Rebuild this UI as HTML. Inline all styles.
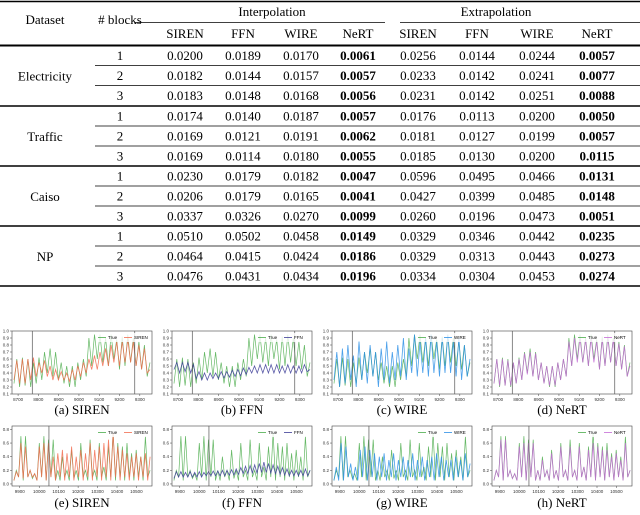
<!DOCTYPE html>
<html><head><meta charset="utf-8"><style>
body{margin:0;background:#fff}
svg{display:block;font-family:"Liberation Serif",serif}
</style></head><body>
<svg id="s" width="640" height="515" viewBox="0 0 640 515"></svg>
<script>
// ---------- Table data ----------
const datasets=["Electricity","Traffic","Caiso","NP"];
const methods=["SIREN","FFN","WIRE","NeRT"];
const tableVals=[
["0.0200","0.0189","0.0170","0.0061","0.0256","0.0144","0.0244","0.0057"],
["0.0182","0.0144","0.0157","0.0057","0.0233","0.0142","0.0241","0.0077"],
["0.0183","0.0148","0.0168","0.0056","0.0231","0.0142","0.0251","0.0088"],
["0.0174","0.0140","0.0187","0.0057","0.0176","0.0113","0.0200","0.0050"],
["0.0169","0.0121","0.0191","0.0062","0.0181","0.0127","0.0199","0.0057"],
["0.0169","0.0114","0.0180","0.0055","0.0185","0.0130","0.0200","0.0115"],
["0.0230","0.0179","0.0182","0.0047","0.0596","0.0495","0.0466","0.0131"],
["0.0206","0.0179","0.0165","0.0041","0.0427","0.0399","0.0485","0.0148"],
["0.0337","0.0326","0.0270","0.0099","0.0260","0.0196","0.0473","0.0051"],
["0.0510","0.0502","0.0458","0.0149","0.0329","0.0346","0.0442","0.0235"],
["0.0464","0.0415","0.0424","0.0186","0.0329","0.0313","0.0443","0.0273"],
["0.0476","0.0431","0.0434","0.0196","0.0334","0.0304","0.0453","0.0274"]];
// ---------- Chart data ----------
const trueTop=[0.25,0.6,0.2,0.62,0.22,0.6,0.2,0.55,0.25,0.62,0.3,0.7,0.4,0.75,0.35,0.7,0.3,0.55,0.25,0.5,0.2,0.5,0.2,0.55,0.3,0.6,0.35,0.9,0.5,0.95,0.6,0.95,0.55,0.9,0.5,0.95,0.6,0.88,0.45,0.92,0.5,0.95,0.55,0.9,0.5,0.85,0.45,0.8,0.35,0.55];
const sirenTop=[0.3,0.58,0.25,0.6,0.25,0.6,0.3,0.62,0.35,0.55,0.4,0.58,0.35,0.5,0.3,0.45,0.3,0.42,0.3,0.4,0.28,0.45,0.3,0.5,0.35,0.55,0.4,0.6,0.45,0.65,0.45,0.7,0.5,0.75,0.5,0.8,0.55,0.85,0.5,0.85,0.55,0.88,0.55,0.85,0.5,0.8,0.45,0.75,0.4,0.45];
const ffnTop=[0.45,0.55,0.4,0.55,0.42,0.55,0.4,0.52,0.32,0.42,0.3,0.4,0.3,0.4,0.32,0.4,0.32,0.42,0.33,0.42,0.34,0.44,0.35,0.45,0.36,0.47,0.38,0.48,0.4,0.5,0.4,0.52,0.4,0.52,0.4,0.52,0.4,0.52,0.4,0.5,0.4,0.52,0.4,0.5,0.4,0.5,0.4,0.52,0.42,0.45];
const wireTop=[0.3,0.7,0.2,0.75,0.25,0.8,0.3,0.65,0.2,0.85,0.3,0.7,0.25,0.8,0.35,0.7,0.2,0.75,0.3,0.85,0.25,0.7,0.3,0.8,0.35,0.9,0.3,0.75,0.4,0.95,0.35,0.85,0.4,0.9,0.35,0.95,0.4,0.85,0.35,0.9,0.4,0.95,0.4,0.85,0.35,0.9,0.3,0.8,0.35,0.6];
const nertTop=[0.25,0.6,0.22,0.6,0.22,0.58,0.22,0.55,0.25,0.6,0.3,0.68,0.38,0.7,0.35,0.68,0.3,0.55,0.25,0.5,0.22,0.5,0.22,0.55,0.3,0.6,0.35,0.85,0.5,0.9,0.55,0.9,0.55,0.88,0.5,0.9,0.55,0.85,0.45,0.88,0.5,0.9,0.55,0.88,0.5,0.82,0.45,0.78,0.35,0.5];
const trueBot=[0.05,0.2,0.1,0.7,0.05,0.7,0.1,0.2,0.08,0.15,0.05,0.6,0.1,0.7,0.05,0.65,0.1,0.65,0.05,0.2,0.05,0.4,0.1,0.2,0.05,0.5,0.08,0.2,0.05,0.6,0.1,0.2,0.05,0.65,0.1,0.2,0.05,0.6,0.1,0.25,0.05,0.55,0.1,0.75,0.05,0.6,0.1,0.55,0.05,0.6,0.1,0.45,0.05,0.5,0.1,0.4,0.05,0.7,0.1,0.2];
const sirenBot=[0.05,0.18,0.1,0.6,0.08,0.55,0.1,0.2,0.1,0.15,0.05,0.55,0.1,0.6,0.05,0.6,0.1,0.4,0.05,0.45,0.1,0.5,0.05,0.45,0.1,0.55,0.05,0.4,0.1,0.5,0.05,0.45,0.1,0.6,0.05,0.5,0.1,0.55,0.05,0.6,0.1,0.65,0.05,0.75,0.1,0.55,0.05,0.5,0.1,0.45,0.05,0.4,0.1,0.45,0.05,0.4,0.1,0.45,0.05,0.4];
const ffnBot=[0.08,0.18,0.1,0.18,0.1,0.17,0.1,0.18,0.1,0.17,0.1,0.18,0.1,0.17,0.12,0.18,0.12,0.19,0.12,0.19,0.12,0.2,0.12,0.2,0.13,0.21,0.13,0.22,0.14,0.24,0.15,0.26,0.15,0.27,0.16,0.28,0.16,0.3,0.17,0.32,0.17,0.3,0.16,0.28,0.15,0.26,0.14,0.24,0.13,0.22,0.12,0.2,0.12,0.2,0.12,0.2,0.12,0.22,0.12,0.2];
const wireBot=[0.05,0.25,0.05,0.6,0.05,0.55,0.1,0.3,0.05,0.25,0.05,0.5,0.1,0.55,0.05,0.5,0.1,0.45,0.05,0.4,0.1,0.45,0.05,0.35,0.1,0.45,0.05,0.35,0.1,0.4,0.05,0.35,0.1,0.45,0.05,0.35,0.1,0.4,0.05,0.35,0.1,0.4,0.05,0.45,0.1,0.4,0.05,0.35,0.1,0.35,0.05,0.4,0.1,0.35,0.05,0.45,0.1,0.3];
const nertBot=[0.05,0.2,0.1,0.65,0.05,0.65,0.1,0.2,0.08,0.15,0.05,0.55,0.1,0.6,0.05,0.6,0.1,0.6,0.05,0.2,0.05,0.35,0.1,0.2,0.05,0.45,0.08,0.2,0.05,0.55,0.1,0.2,0.05,0.55,0.1,0.2,0.05,0.55,0.1,0.25,0.05,0.5,0.1,0.6,0.05,0.55,0.1,0.5,0.05,0.5,0.1,0.4,0.05,0.45,0.1,0.35,0.05,0.6,0.1,0.2];
const topXTicks=[8700,8800,8900,9000,9100,9200,9300];
const topYTicks=[0.1,0.2,0.3,0.4,0.5,0.6,0.7,0.8,0.9,1.0];
const botXTicks=[9900,10000,10100,10200,10300,10400,10500];
const botYTicks=[0.0,0.2,0.4,0.6,0.8];
const topVLines=[8770,9275];
const botVLines=[10050];
const panels=[
 {row:0,col:0,name:"SIREN",pred:sirenTop,color:"#f26b4e",cap:"(a) SIREN"},
 {row:0,col:1,name:"FFN",pred:ffnTop,color:"#3b3b96",cap:"(b) FFN"},
 {row:0,col:2,name:"WIRE",pred:wireTop,color:"#2b8fe6",cap:"(c) WIRE"},
 {row:0,col:3,name:"NeRT",pred:nertTop,color:"#c46ad6",cap:"(d) NeRT"},
 {row:1,col:0,name:"SIREN",pred:sirenBot,color:"#f26b4e",cap:"(e) SIREN"},
 {row:1,col:1,name:"FFN",pred:ffnBot,color:"#3b3b96",cap:"(f) FFN"},
 {row:1,col:2,name:"WIRE",pred:wireBot,color:"#2b8fe6",cap:"(g) WIRE"},
 {row:1,col:3,name:"NeRT",pred:nertBot,color:"#c46ad6",cap:"(h) NeRT"}];

const NS="http://www.w3.org/2000/svg";
const S=document.getElementById("s");
function mk(tag,attrs,parent){const e=document.createElementNS(NS,tag);for(const k in attrs)e.setAttribute(k,attrs[k]);(parent||S).appendChild(e);return e;}
function txt(x,y,t,size,extra,parent){const e=mk("text",Object.assign({x:x,y:y,"font-size":size,"text-anchor":"middle"},extra||{}),parent);e.textContent=t;return e;}

// ---------- Table ----------
const tbl=mk("g",{});


const colX=[185,243,301,358,418,477,537,597];
mk("line",{x1:0,x2:640,y1:1.5,y2:1.5,stroke:"#000","stroke-width":1.5},tbl);
txt(45,24,"Dataset",13,{},tbl);
txt(120,24,"# blocks",13,{},tbl);
txt(272,16,"Interpolation",13,{},tbl);
txt(496,16,"Extrapolation",13,{},tbl);
mk("line",{x1:135,x2:385,y1:22.5,y2:22.5,stroke:"#000","stroke-width":0.8},tbl);
mk("line",{x1:330,x2:640,y1:22.5,y2:22.5,stroke:"#000","stroke-width":0}, tbl);
mk("line",{x1:400,x2:640,y1:22.5,y2:22.5,stroke:"#000","stroke-width":0.8},tbl);
for(let i=0;i<8;i++){const h=txt(colX[i],38,methods[i%4],13,{},tbl);}
const rowH=20, groupTop=[45.5,106,166,226];
for(let g=0;g<4;g++){
  const y0=groupTop[g];
  mk("line",{x1:0,x2:640,y1:y0,y2:y0,stroke:"#000","stroke-width":g==0?2:1.5},tbl);
  const dl=txt(45,y0+35,datasets[g],13,{},tbl);
  
  
  for(let r=0;r<3;r++){
    const yc=y0+10+r*rowH;
    if(r>0)mk("line",{x1:95,x2:640,y1:y0+r*rowH,y2:y0+r*rowH,stroke:"#000","stroke-width":0.7},tbl);
    txt(120,yc+4.5,String(r+1),13,{},tbl);
    const vals=tableVals[g*3+r];
    for(let c=0;c<8;c++){const t=txt(colX[c],yc+4.5,vals[c],13,(c%4==3)?{"font-weight":"bold"}:{},tbl);}
  }
}
mk("line",{x1:0,x2:640,y1:286,y2:286,stroke:"#000","stroke-width":1.5},tbl);

// ---------- Charts ----------
panels.forEach(p=>{
  const g=mk("g",{});
  
  
  const ox=p.col*160;
  const L=ox+12,R=ox+152;
  const T=p.row==0?331:426, B=p.row==0?394:486;
  const xt=p.row==0?topXTicks:botXTicks, yt=p.row==0?topYTicks:botYTicks;
  const xmin=p.row==0?8670:9860, xmax=p.row==0?9360:10580;
  const ymin=p.row==0?0.1:-0.03, ymax=p.row==0?1.0:0.85;
  const tr=p.row==0?trueTop:trueBot;
  const xs=v=>L+(v-xmin)/(xmax-xmin)*(R-L);
  const ys=v=>B-(v-ymin)/(ymax-ymin)*(B-T);
  mk("rect",{x:L,y:T,width:R-L,height:B-T,fill:"#fff",stroke:"#444","stroke-width":0.6},g);
  yt.forEach(v=>{mk("line",{x1:L-2,x2:L,y1:ys(v),y2:ys(v),stroke:"#444","stroke-width":0.5},g);txt(L-3,ys(v)+1.5,v.toFixed(1),4.5,{"text-anchor":"end","font-family":"Liberation Sans, sans-serif",fill:"#333"},g);});
  xt.forEach(v=>{mk("line",{x1:xs(v),x2:xs(v),y1:B,y2:B+2,stroke:"#444","stroke-width":0.5},g);txt(xs(v),B+7,String(v),4.5,{"font-family":"Liberation Sans, sans-serif",fill:"#333"},g);});
  const line=(arr,col,w)=>{const d=arr.map((v,i)=>(i?"L":"M")+xs(xmin+10+i*(xmax-xmin-20)/(arr.length-1)).toFixed(1)+","+ys(v).toFixed(1)).join("");return mk("path",{d:d,fill:"none",stroke:col,"stroke-width":w,"stroke-opacity":0.85},g);};
  const tl=line(tr,"#4aab4a",0.7);
  
  
  const pl=line(p.pred,p.color,0.8);
  
  
  (p.row==0?topVLines:botVLines).forEach(v=>mk("line",{x1:xs(v),x2:xs(v),y1:T,y2:B,stroke:"#555","stroke-width":0.7},g));
  const lg=mk("g",{},g);
  
  
  mk("rect",{x:R-56,y:T+2,width:54,height:9,fill:"#fff","fill-opacity":0.8},lg);
  mk("line",{x1:R-54,x2:R-46,y1:T+6.5,y2:T+6.5,stroke:"#4aab4a","stroke-width":0.8},lg);
  txt(R-44,T+8,"True",4.5,{"text-anchor":"start","font-family":"Liberation Sans, sans-serif"},lg);
  mk("line",{x1:R-28,x2:R-20,y1:T+6.5,y2:T+6.5,stroke:p.color,"stroke-width":0.8},lg);
  txt(R-18,T+8,p.name,4.5,{"text-anchor":"start","font-family":"Liberation Sans, sans-serif"},lg);
  const c=txt(ox+82,p.row==0?414:507,p.cap,13,{},g);
  
  
});
</script>
</body></html>
